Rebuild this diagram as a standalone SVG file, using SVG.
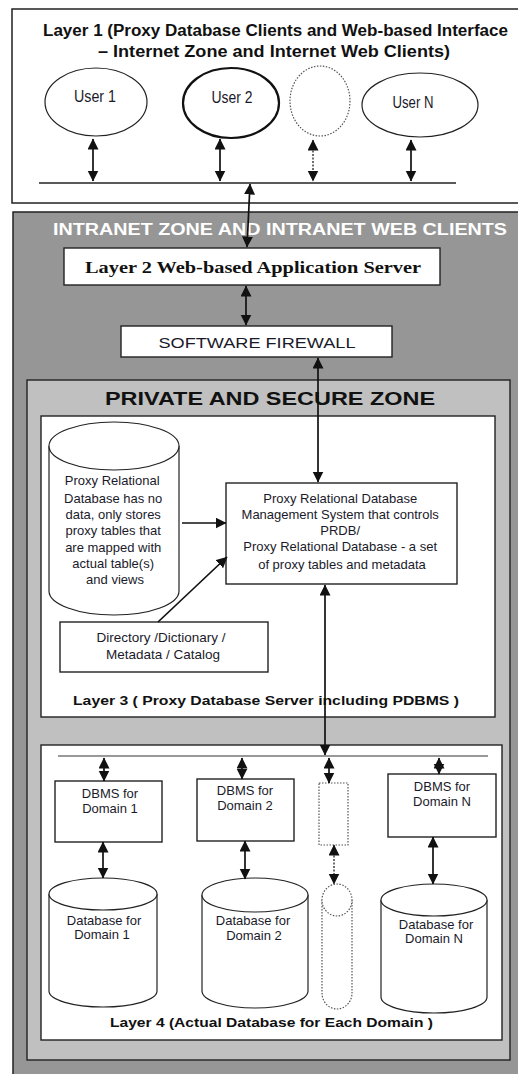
<svg xmlns="http://www.w3.org/2000/svg" width="518" height="1074" viewBox="0 0 518 1074">
<defs>
<marker id="ah" markerUnits="userSpaceOnUse" markerWidth="12" markerHeight="12" refX="10.5" refY="5.5" orient="auto-start-reverse">
<path d="M0,0 L11,5.5 L0,11 z" fill="#111"/>
</marker>
</defs>
<style>
.box{fill:#fff;stroke:#222;stroke-width:1.4}
.ell{fill:#fff;stroke:#222;stroke-width:1.2}
.dot{fill:#fff;stroke:#555;stroke-width:1.2;stroke-dasharray:1.5,1.5}
.t{font-family:"Liberation Sans",Arial,sans-serif;fill:#1a1a2a;text-anchor:middle}
.tb{font-family:"Liberation Sans",Arial,sans-serif;font-weight:bold;fill:#111;text-anchor:middle}
.c{stroke:#111;stroke-width:1.7;fill:none;marker-start:url(#ah);marker-end:url(#ah)}
.c1{stroke:#111;stroke-width:1.7;fill:none;marker-end:url(#ah)}
.cd{stroke:#333;stroke-width:1.4;fill:none;stroke-dasharray:2,1.5;marker-start:url(#ah);marker-end:url(#ah)}
</style>

<g id="zones">
<rect x="12" y="9" width="520" height="194" fill="#fff" stroke="#222" stroke-width="1.5"/>
<text class="tb" x="275.5" y="36" font-size="16" textLength="465" lengthAdjust="spacingAndGlyphs">Layer 1 (Proxy Database Clients and Web-based Interface</text>
<text class="tb" x="274" y="57" font-size="16" textLength="352" lengthAdjust="spacingAndGlyphs">– Internet Zone and Internet Web Clients)</text>
<rect x="13" y="212" width="520" height="880" fill="#969696" stroke="#222" stroke-width="1.5"/>
<text class="tb" x="280" y="235" font-size="16" style="fill:#fff" textLength="454" lengthAdjust="spacingAndGlyphs">INTRANET ZONE AND INTRANET WEB CLIENTS</text>
<rect x="27" y="380" width="483" height="680" fill="#c0c0c0" stroke="#222" stroke-width="1.4"/>
<text class="tb" x="270" y="405" font-size="19" textLength="330" lengthAdjust="spacingAndGlyphs">PRIVATE AND SECURE ZONE</text>
<rect x="41" y="416" width="454" height="301" class="box"/>
<text class="tb" x="266" y="705" font-size="13.5" textLength="386" lengthAdjust="spacingAndGlyphs">Layer 3 ( Proxy Database Server including PDBMS )</text>
<rect x="41" y="745" width="461" height="295" class="box"/>
<text class="tb" x="271.5" y="1027" font-size="13.5" textLength="323" lengthAdjust="spacingAndGlyphs">Layer 4 (Actual Database  for Each Domain )</text>
</g>

<g id="user1">
<ellipse cx="96" cy="102" rx="51" ry="34" class="ell"/>
<text class="t" x="95" y="102" font-size="16" textLength="42" lengthAdjust="spacingAndGlyphs">User 1</text>
</g>
<g id="user2">
<ellipse cx="231" cy="103" rx="48" ry="35" fill="#fff" stroke="#111" stroke-width="2.2"/>
<text class="t" x="232" y="103" font-size="16" textLength="41" lengthAdjust="spacingAndGlyphs">User 2</text>
</g>
<g id="user-more">
<ellipse cx="320" cy="101" rx="30" ry="35" class="dot"/>
</g>
<g id="userN">
<ellipse cx="420" cy="105" rx="58" ry="32" class="ell"/>
<text class="t" x="413" y="108" font-size="16" textLength="41" lengthAdjust="spacingAndGlyphs">User N</text>
</g>

<g id="layer2">
<rect x="64" y="248" width="376" height="37" class="box"/>
<text x="253" y="273" font-family="'Liberation Serif','Times New Roman',serif" font-weight="bold" font-size="17" text-anchor="middle" fill="#111" textLength="336" lengthAdjust="spacingAndGlyphs">Layer 2 Web-based Application Server</text>
</g>

<g id="firewall">
<rect x="121" y="326" width="271" height="31" class="box"/>
<text class="t" x="257" y="348" font-size="15.5" textLength="197" lengthAdjust="spacingAndGlyphs">SOFTWARE FIREWALL</text>
</g>

<g id="proxy-db">
<path d="M49,446 L49,591 A65,24 0 0 0 179,591 L179,446" class="ell"/>
<ellipse cx="114" cy="446" rx="65" ry="24" class="ell"/>
<text class="t" font-size="13">
<tspan x="114" y="485">Proxy Relational</tspan>
<tspan x="115" y="503">Database has no</tspan>
<tspan x="115" y="519">data, only stores</tspan>
<tspan x="115" y="535">proxy tables that</tspan>
<tspan x="115" y="552">are mapped with</tspan>
<tspan x="115" y="568">actual table(s)</tspan>
<tspan x="115" y="584">and views</tspan>
</text>
</g>

<g id="prdbms">
<rect x="226" y="483" width="231" height="101" class="box"/>
<text class="t" font-size="13">
<tspan x="342" y="503">Proxy Relational Database</tspan>
<tspan x="342" y="519">Management  System that controls</tspan>
<tspan x="342" y="535">PRDB/</tspan>
<tspan x="342" y="551">Proxy Relational Database - a set</tspan>
<tspan x="342" y="569">of proxy tables and metadata</tspan>
</text>
</g>

<g id="directory">
<rect x="60" y="622" width="208" height="50" class="box"/>
<text class="t" font-size="13.5">
<tspan x="163" y="642">Directory /Dictionary /</tspan>
<tspan x="163" y="659">Metadata / Catalog</tspan>
</text>
</g>

<g id="dbms1">
<rect x="55" y="781" width="107" height="61" class="box"/>
<text class="t" font-size="13"><tspan x="110" y="798">DBMS for</tspan><tspan x="110" y="813">Domain 1</tspan></text>
</g>
<g id="dbms2">
<rect x="197" y="779" width="97" height="62" class="box"/>
<text class="t" font-size="13"><tspan x="245" y="795">DBMS for</tspan><tspan x="245" y="810">Domain 2</tspan></text>
</g>
<g id="dbms-more">
<rect x="319" y="783" width="29" height="62" class="dot"/>
</g>
<g id="dbmsN">
<rect x="388" y="774" width="108" height="63" class="box"/>
<text class="t" font-size="13"><tspan x="442" y="791">DBMS for</tspan><tspan x="442" y="806">Domain N</tspan></text>
</g>

<g id="db1">
<path d="M49,894 L49,991 A54,16 0 0 0 157,991 L157,894" class="ell"/>
<ellipse cx="103" cy="894" rx="54" ry="16" class="ell"/>
<text class="t" font-size="13"><tspan x="104" y="925">Database for</tspan><tspan x="102" y="939">Domain 1</tspan></text>
</g>
<g id="db2">
<path d="M202,895 L202,991 A53,17 0 0 0 308,991 L308,895" class="ell"/>
<ellipse cx="255" cy="895" rx="53" ry="17" class="ell"/>
<text class="t" font-size="13"><tspan x="253" y="925">Database for</tspan><tspan x="254" y="940">Domain 2</tspan></text>
</g>
<g id="db-more">
<path d="M322,900 L322,993 A15,16 0 0 0 352,993 L352,900" class="dot"/>
<ellipse cx="337" cy="900" rx="15" ry="16" class="dot"/>
</g>
<g id="dbN">
<path d="M381,900 L381,997 A53,16 0 0 0 487,997 L487,900" class="ell"/>
<ellipse cx="434" cy="900" rx="53" ry="16" class="ell"/>
<text class="t" font-size="13"><tspan x="436" y="929">Database for</tspan><tspan x="434" y="943">Domain N</tspan></text>
</g>

<g id="connectors">
<line x1="39" y1="183" x2="456" y2="183" stroke="#222" stroke-width="1.4"/>
<line x1="58" y1="756" x2="488" y2="756" stroke="#777" stroke-width="1.3"/>
<line x1="93" y1="139" x2="93" y2="181" class="c"/>
<line x1="220" y1="139" x2="220" y2="181" class="c"/>
<line x1="313" y1="140" x2="313" y2="181" class="cd"/>
<line x1="411" y1="140" x2="411" y2="181" class="c"/>
<line x1="250" y1="184" x2="247" y2="247" class="c"/>
<line x1="246" y1="286" x2="246" y2="325" class="c"/>
<line x1="318" y1="358" x2="318" y2="482" class="c"/>
<line x1="325" y1="585" x2="325" y2="755" class="c"/>
<line x1="182" y1="523" x2="226" y2="523" class="c1"/>
<line x1="158" y1="622" x2="227" y2="557" class="c1"/>
<line x1="104" y1="758" x2="104" y2="781" class="c"/>
<line x1="103" y1="842" x2="103" y2="878" class="c"/>
<line x1="242" y1="758" x2="242" y2="779" class="c"/>
<line x1="245" y1="841" x2="245" y2="879" class="c"/>
<line x1="329" y1="758" x2="329" y2="783" class="c"/>
<line x1="334" y1="845" x2="334" y2="884" class="cd"/>
<line x1="439" y1="758" x2="439" y2="774" class="c"/>
<line x1="433" y1="837" x2="433" y2="884" class="c"/>
</g>
</svg>
